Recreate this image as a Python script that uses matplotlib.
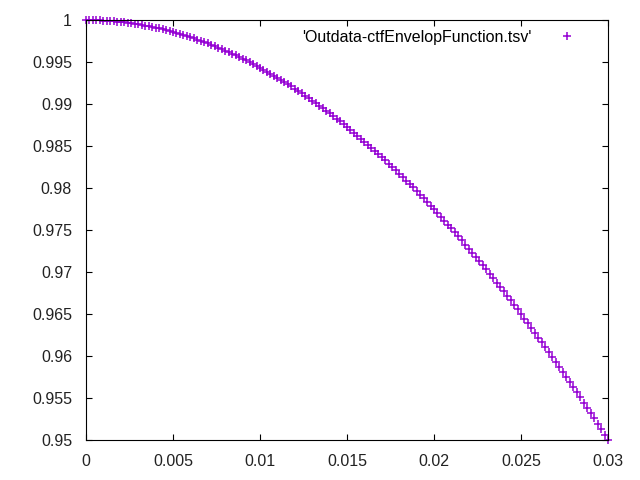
import matplotlib
matplotlib.use("Agg")
import matplotlib.pyplot as plt

plt.rcParams["font.family"] = ["Liberation Sans", "DejaVu Sans"]

# envelope values, x step 0.0002 from 0 to 0.03
x_step = 0.0002
envelope = [
    1.00000, 1.00000, 0.99999, 0.99998, 0.99996, 0.99994, 0.99992, 0.99989, 0.99985, 0.99982,
    0.99977, 0.99972, 0.99967, 0.99961, 0.99955, 0.99949, 0.99942, 0.99934, 0.99926, 0.99918,
    0.99909, 0.99900, 0.99890, 0.99879, 0.99869, 0.99858, 0.99846, 0.99834, 0.99821, 0.99808,
    0.99795, 0.99781, 0.99767, 0.99752, 0.99737, 0.99721, 0.99705, 0.99688, 0.99671, 0.99654,
    0.99636, 0.99617, 0.99599, 0.99579, 0.99560, 0.99539, 0.99519, 0.99498, 0.99476, 0.99454,
    0.99432, 0.99409, 0.99385, 0.99362, 0.99337, 0.99313, 0.99288, 0.99262, 0.99236, 0.99209,
    0.99183, 0.99155, 0.99127, 0.99099, 0.99070, 0.99041, 0.99012, 0.98982, 0.98951, 0.98920,
    0.98889, 0.98857, 0.98825, 0.98792, 0.98759, 0.98726, 0.98692, 0.98657, 0.98622, 0.98587,
    0.98551, 0.98515, 0.98479, 0.98442, 0.98404, 0.98366, 0.98328, 0.98289, 0.98250, 0.98210,
    0.98170, 0.98130, 0.98089, 0.98047, 0.98006, 0.97963, 0.97921, 0.97878, 0.97834, 0.97790,
    0.97746, 0.97701, 0.97656, 0.97610, 0.97564, 0.97518, 0.97471, 0.97423, 0.97376, 0.97327,
    0.97279, 0.97230, 0.97180, 0.97131, 0.97080, 0.97030, 0.96979, 0.96927, 0.96875, 0.96823,
    0.96770, 0.96717, 0.96663, 0.96609, 0.96555, 0.96500, 0.96445, 0.96389, 0.96333, 0.96277,
    0.96220, 0.96163, 0.96105, 0.96047, 0.95989, 0.95930, 0.95871, 0.95811, 0.95751, 0.95690,
    0.95630, 0.95568, 0.95507, 0.95445, 0.95382, 0.95319, 0.95256, 0.95193, 0.95129, 0.95064,
    0.95000,
]
freq = [i * x_step for i in range(len(envelope))]

x_ticks = [0, 0.005, 0.01, 0.015, 0.02, 0.025, 0.03]
x_tick_labels = ["0", "0.005", "0.01", "0.015", "0.02", "0.025", "0.03"]
y_ticks = [0.95, 0.955, 0.96, 0.965, 0.97, 0.975, 0.98, 0.985, 0.99, 0.995, 1.0]
y_tick_labels = ["0.95", "0.955", "0.96", "0.965", "0.97", "0.975",
                 "0.98", "0.985", "0.99", "0.995", "1"]
series_label = "'Outdata-ctfEnvelopFunction.tsv'"

fig = plt.figure(figsize=(6.4, 4.8), dpi=100)
fig.patch.set_facecolor("white")
ax = fig.add_axes([86 / 640, 1 - 440 / 480, 522 / 640, 420 / 480])

ax.plot(freq, envelope, linestyle="none", marker="+", markersize=6.2,
        markeredgewidth=1.1, color="#9400D3", label=series_label, clip_on=False)

ax.set_xlim(0, 0.03)
ax.set_ylim(0.95, 1.0)
ax.set_xticks(x_ticks)
ax.set_xticklabels(x_tick_labels)
ax.set_yticks(y_ticks)
ax.set_yticklabels(y_tick_labels)
ax.tick_params(axis="both", direction="in", length=4.5, width=0.8,
               top=True, right=True, labelsize=11.5, pad=10, colors="black")
ax.tick_params(axis="both", labelcolor="#222222")
for spine in ax.spines.values():
    spine.set_linewidth(0.8)
    spine.set_color("black")

ax.legend(loc="upper right", frameon=False, markerfirst=False, fontsize=11.5,
          handlelength=2.0, handletextpad=1.2, borderaxespad=0.2,
          bbox_to_anchor=(0.97, 1.0))

fig.savefig("out.png", dpi=100)
plt.close(fig)
